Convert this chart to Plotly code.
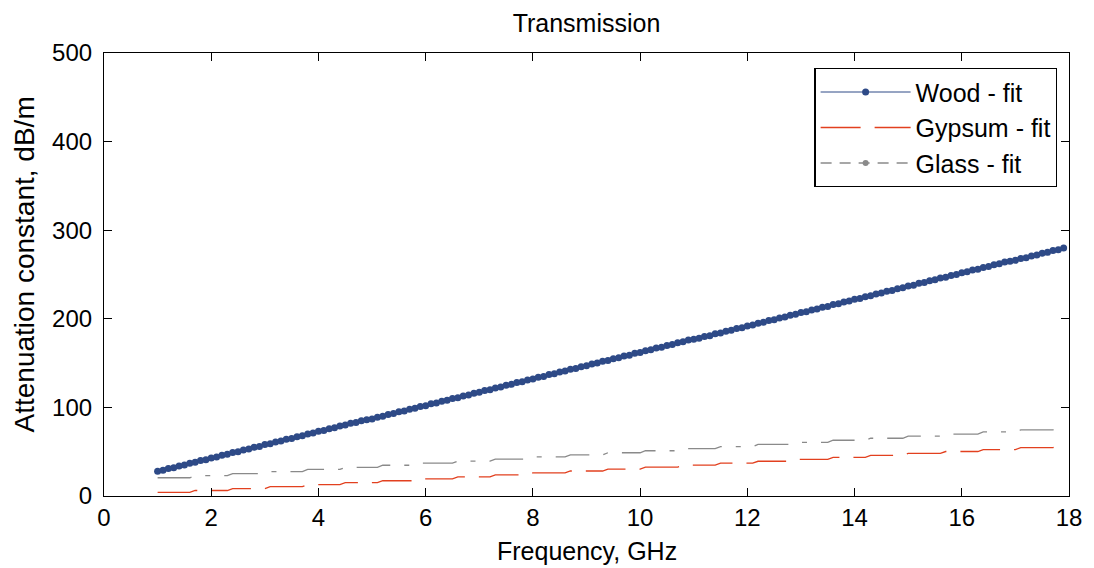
import plotly.graph_objects as go

# ---------------- data ----------------
freq_ghz = [
    1.0, 1.1, 1.2, 1.3, 1.4, 1.5, 1.6, 1.7, 1.8, 1.9,
    2.0, 2.1, 2.2, 2.3, 2.4, 2.5, 2.6, 2.7, 2.8, 2.9,
    3.0, 3.1, 3.2, 3.3, 3.4, 3.5, 3.6, 3.7, 3.8, 3.9,
    4.0, 4.1, 4.2, 4.3, 4.4, 4.5, 4.6, 4.7, 4.8, 4.9,
    5.0, 5.1, 5.2, 5.3, 5.4, 5.5, 5.6, 5.7, 5.8, 5.9,
    6.0, 6.1, 6.2, 6.3, 6.4, 6.5, 6.6, 6.7, 6.8, 6.9,
    7.0, 7.1, 7.2, 7.3, 7.4, 7.5, 7.6, 7.7, 7.8, 7.9,
    8.0, 8.1, 8.2, 8.3, 8.4, 8.5, 8.6, 8.7, 8.8, 8.9,
    9.0, 9.1, 9.2, 9.3, 9.4, 9.5, 9.6, 9.7, 9.8, 9.9,
    10.0, 10.1, 10.2, 10.3, 10.4, 10.5, 10.6, 10.7, 10.8, 10.9,
    11.0, 11.1, 11.2, 11.3, 11.4, 11.5, 11.6, 11.7, 11.8, 11.9,
    12.0, 12.1, 12.2, 12.3, 12.4, 12.5, 12.6, 12.7, 12.8, 12.9,
    13.0, 13.1, 13.2, 13.3, 13.4, 13.5, 13.6, 13.7, 13.8, 13.9,
    14.0, 14.1, 14.2, 14.3, 14.4, 14.5, 14.6, 14.7, 14.8, 14.9,
    15.0, 15.1, 15.2, 15.3, 15.4, 15.5, 15.6, 15.7, 15.8, 15.9,
    16.0, 16.1, 16.2, 16.3, 16.4, 16.5, 16.6, 16.7, 16.8, 16.9,
    17.0, 17.1, 17.2, 17.3, 17.4, 17.5, 17.6, 17.7, 17.8, 17.9,
]

wood_fit = [
    28, 29, 31, 32, 34, 35, 37, 38, 40, 41,
    43, 44, 46, 47, 49, 50, 52, 53, 55, 56,
    58, 59, 61, 62, 64, 65, 67, 68, 70, 71,
    73, 74, 76, 77, 79, 80, 82, 83, 85, 86,
    87, 89, 90, 92, 93, 95, 96, 98, 99, 101,
    102, 104, 105, 107, 108, 110, 111, 113, 114, 116,
    117, 119, 120, 122, 123, 125, 126, 128, 129, 131,
    132, 134, 135, 137, 138, 140, 141, 143, 144, 146,
    147, 149, 150, 152, 153, 155, 156, 158, 159, 161,
    162, 164, 165, 167, 168, 170, 171, 173, 174, 176,
    177, 178, 180, 181, 183, 184, 186, 187, 189, 190,
    192, 193, 195, 196, 198, 199, 201, 202, 204, 205,
    207, 208, 210, 211, 213, 214, 216, 217, 219, 220,
    222, 223, 225, 226, 228, 229, 231, 232, 234, 235,
    237, 238, 240, 241, 243, 244, 246, 247, 249, 250,
    252, 253, 255, 256, 258, 259, 261, 262, 264, 265,
    266, 268, 269, 271, 272, 274, 275, 277, 278, 280,
]

gypsum_fit = [
    4.0, 4.0, 4.0, 4.0, 4.0, 4.0, 4.0, 6.2, 6.2, 6.2,
    6.2, 6.2, 6.2, 6.2, 8.4, 8.4, 8.4, 8.4, 8.4, 8.4,
    8.4, 10.6, 10.6, 10.6, 10.6, 10.6, 10.6, 10.6, 12.8, 12.8,
    12.8, 12.8, 12.8, 12.8, 12.8, 15.0, 15.0, 15.0, 15.0, 15.0,
    15.0, 15.0, 17.2, 17.2, 17.2, 17.2, 17.2, 17.2, 17.2, 19.4,
    19.4, 19.4, 19.4, 19.4, 19.4, 19.4, 21.6, 21.6, 21.6, 21.6,
    21.6, 21.6, 21.6, 23.8, 23.8, 23.8, 23.8, 23.8, 23.8, 23.8,
    26.0, 26.0, 26.0, 26.0, 26.0, 26.0, 26.0, 28.2, 28.2, 28.2,
    28.2, 28.2, 28.2, 28.2, 30.4, 30.4, 30.4, 30.4, 30.4, 30.4,
    30.4, 32.6, 32.6, 32.6, 32.6, 32.6, 32.6, 32.6, 34.8, 34.8,
    34.8, 34.8, 34.8, 34.8, 34.8, 37.0, 37.0, 37.0, 37.0, 37.0,
    37.0, 37.0, 39.2, 39.2, 39.2, 39.2, 39.2, 39.2, 39.2, 41.4,
    41.4, 41.4, 41.4, 41.4, 41.4, 41.4, 43.6, 43.6, 43.6, 43.6,
    43.6, 43.6, 43.6, 45.8, 45.8, 45.8, 45.8, 45.8, 45.8, 45.8,
    48.0, 48.0, 48.0, 48.0, 48.0, 48.0, 48.0, 50.2, 50.2, 50.2,
    50.2, 50.2, 50.2, 50.2, 52.4, 52.4, 52.4, 52.4, 52.4, 52.4,
    52.4, 54.6, 54.6, 54.6, 54.6, 54.6, 54.6, 54.6, 56.8, 56.8,
]

glass_fit = [
    20.6, 20.6, 20.6, 20.6, 20.6, 20.6, 20.6, 22.9, 22.9, 22.9,
    22.9, 22.9, 22.9, 22.9, 25.3, 25.3, 25.3, 25.3, 25.3, 25.3,
    25.3, 27.6, 27.6, 27.6, 27.6, 27.6, 27.6, 27.6, 30.0, 30.0,
    30.0, 30.0, 30.0, 30.0, 30.0, 32.3, 32.3, 32.3, 32.3, 32.3,
    32.3, 32.3, 34.7, 34.7, 34.7, 34.7, 34.7, 34.7, 34.7, 37.0,
    37.0, 37.0, 37.0, 37.0, 37.0, 37.0, 39.4, 39.4, 39.4, 39.4,
    39.4, 39.4, 39.4, 41.7, 41.7, 41.7, 41.7, 41.7, 41.7, 41.7,
    44.1, 44.1, 44.1, 44.1, 44.1, 44.1, 44.1, 46.4, 46.4, 46.4,
    46.4, 46.4, 46.4, 46.4, 48.8, 48.8, 48.8, 48.8, 48.8, 48.8,
    48.8, 51.1, 51.1, 51.1, 51.1, 51.1, 51.1, 51.1, 53.5, 53.5,
    53.5, 53.5, 53.5, 53.5, 53.5, 55.8, 55.8, 55.8, 55.8, 55.8,
    55.8, 55.8, 58.2, 58.2, 58.2, 58.2, 58.2, 58.2, 58.2, 60.5,
    60.5, 60.5, 60.5, 60.5, 60.5, 60.5, 62.9, 62.9, 62.9, 62.9,
    62.9, 62.9, 62.9, 65.2, 65.2, 65.2, 65.2, 65.2, 65.2, 65.2,
    67.6, 67.6, 67.6, 67.6, 67.6, 67.6, 67.6, 69.9, 69.9, 69.9,
    69.9, 69.9, 69.9, 69.9, 72.3, 72.3, 72.3, 72.3, 72.3, 72.3,
    72.3, 74.6, 74.6, 74.6, 74.6, 74.6, 74.6, 74.6, 77.0, 77.0,
]

series_names = ["Wood - fit", "Gypsum - fit", "Glass - fit"]
x_ticks = [0, 2, 4, 6, 8, 10, 12, 14, 16, 18]
y_ticks = [0, 100, 200, 300, 400, 500]

# ---------------- styles ----------------
FONT = "Liberation Sans, Arial, Helvetica, sans-serif"
WOOD_C = "#2E4A87"
GYPS_C = "#E2401F"
GLASS_C = "#8A8A8A"

fig = go.Figure()

fig.add_trace(go.Scatter(
    x=freq_ghz, y=wood_fit, name=series_names[0], mode="lines+markers",
    line=dict(color=WOOD_C, width=1),
    marker=dict(color=WOOD_C, size=7, line=dict(width=0)),
))
fig.add_trace(go.Scatter(
    x=freq_ghz, y=gypsum_fit, name=series_names[1], mode="lines",
    line=dict(color=GYPS_C, width=1.3, dash="40px,14px"),
))
fig.add_trace(go.Scatter(
    x=freq_ghz, y=glass_fit, name=series_names[2], mode="lines",
    line=dict(color=GLASS_C, width=1.3, dash="34px,14px,5px,14px"),
    showlegend=False,
))
# legend entry for glass (dash-dot line with dot marker)
fig.add_trace(go.Scatter(
    x=[None], y=[None], name=series_names[2], mode="lines+markers",
    line=dict(color=GLASS_C, width=1.3, dash="11px,8px"),
    marker=dict(color=GLASS_C, size=6),
))

axis_common = dict(
    showline=True, linecolor="black", linewidth=1.2, mirror="ticks",
    ticks="inside", ticklen=8, tickwidth=1, tickcolor="black",
    showgrid=False, zeroline=False,
    tickfont=dict(family=FONT, size=24, color="black"),
)

fig.update_xaxes(range=[0, 18], tickvals=x_ticks, ticktext=[str(v) for v in x_ticks],
                 ticklabelstandoff=0, **axis_common)
fig.update_yaxes(range=[0, 500], tickvals=y_ticks, ticktext=[str(v) for v in y_ticks],
                 ticklabelstandoff=6, **axis_common)

fig.update_layout(
    width=1094, height=568,
    margin=dict(l=104, r=22, t=53, b=72),
    paper_bgcolor="white", plot_bgcolor="white",
    font=dict(family=FONT, size=25, color="black"),
    title=dict(text="Transmission", x=0.5, xref="paper", xanchor="center",
               y=1 - 23 / 568, yref="container", yanchor="middle",
               font=dict(family=FONT, size=25, color="black")),
    legend=dict(
        x=0.988, y=0.966, xanchor="right", yanchor="top",
        bgcolor="white", bordercolor="black", borderwidth=1.2,
        font=dict(family=FONT, size=25, color="black"),
        itemwidth=90, tracegroupgap=0,
    ),
    annotations=[
        dict(text="Frequency, GHz", xref="paper", yref="paper", x=0.5, y=0,
             xanchor="center", yanchor="middle", yshift=-55, showarrow=False,
             font=dict(family=FONT, size=25, color="black")),
        dict(text="Attenuation constant, dB/m", xref="paper", yref="paper", x=0, y=0.5,
             xanchor="center", yanchor="middle", xshift=-80, yshift=10, textangle=-90,
             showarrow=False, font=dict(family=FONT, size=28, color="black")),
    ],
    showlegend=True,
)

fig.write_html("out.html")
